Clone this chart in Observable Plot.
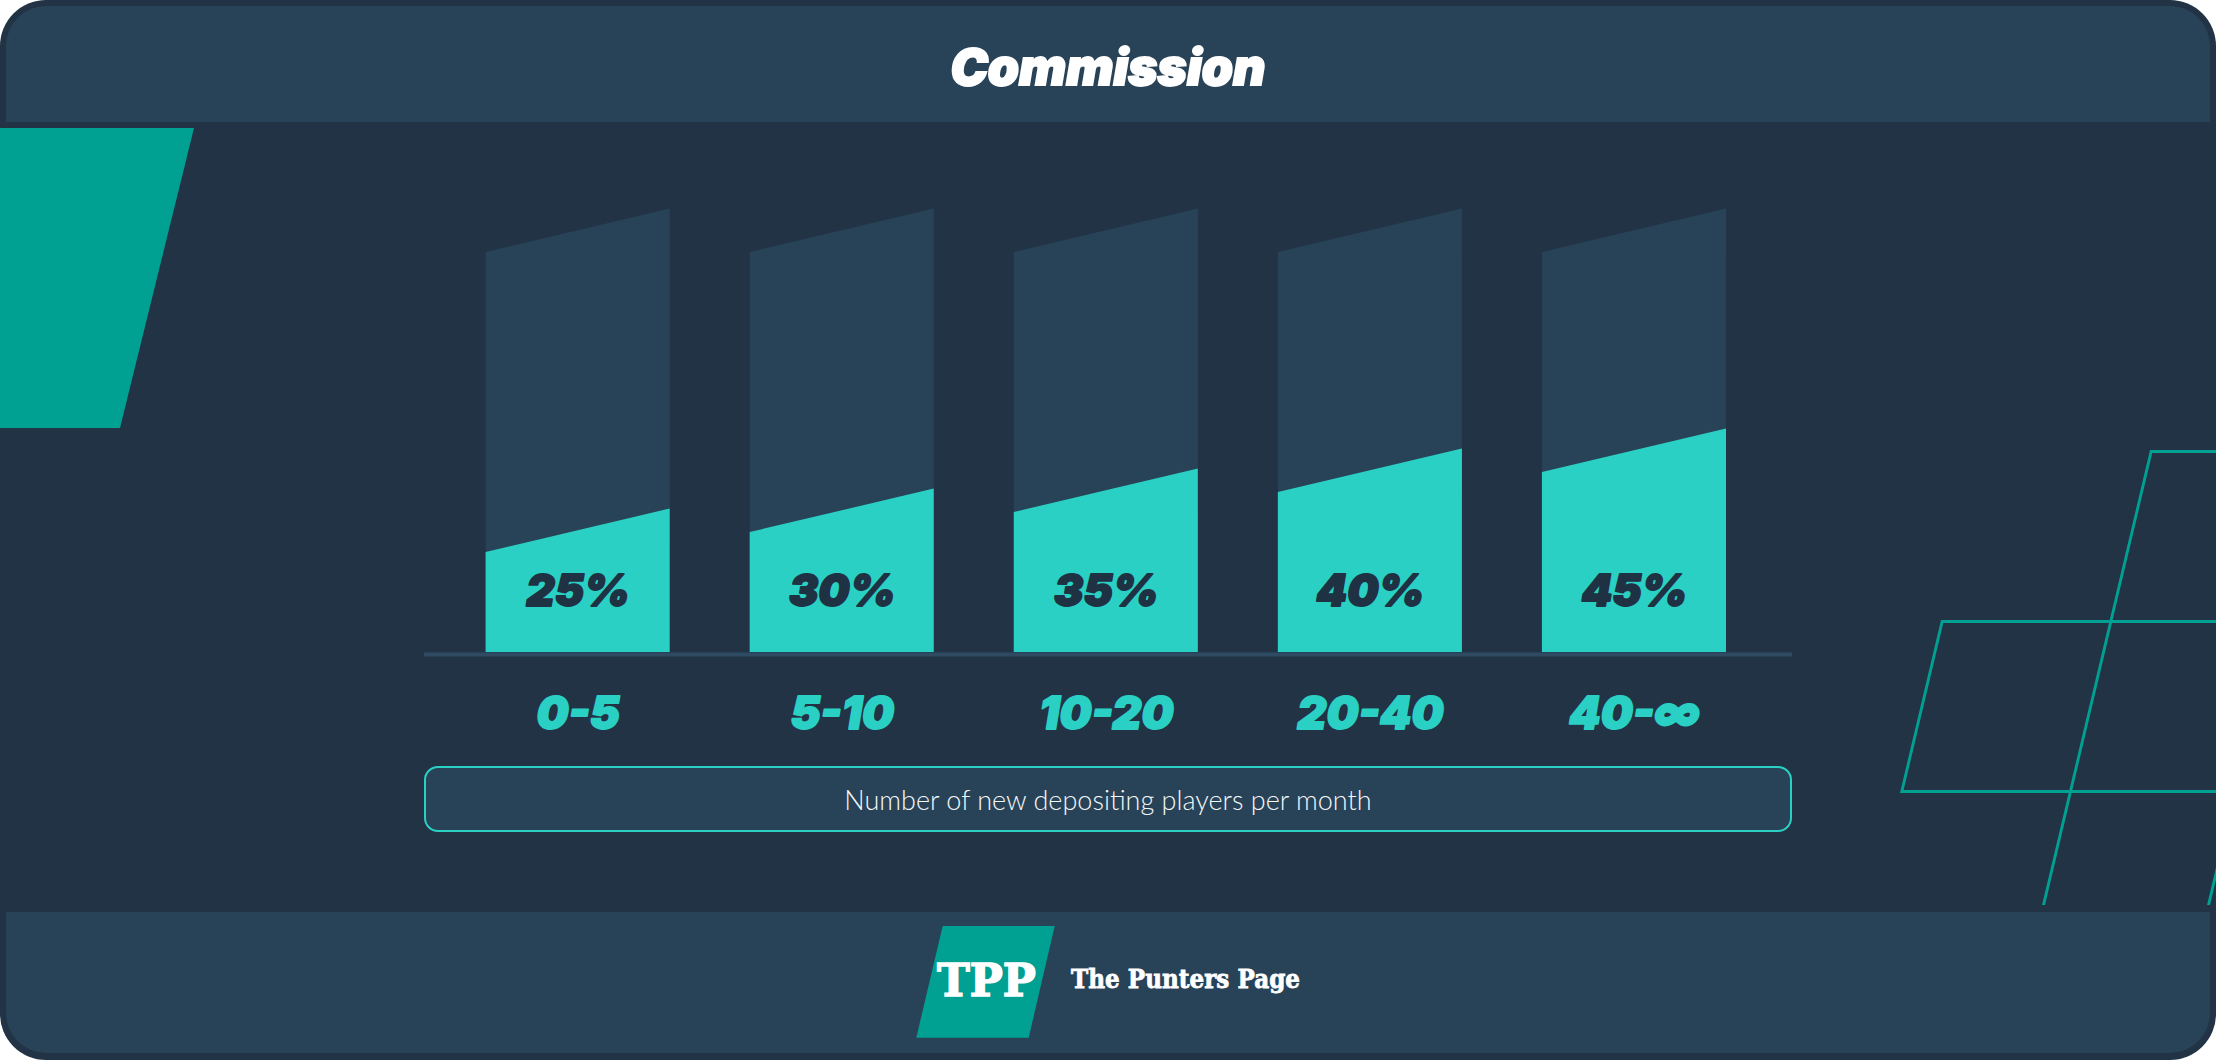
<!DOCTYPE html>
<html>
<head>
<meta charset="utf-8">
<script src="https://cdn.jsdelivr.net/npm/d3@7"></script>
<script src="https://cdn.jsdelivr.net/npm/@observablehq/plot@0.6"></script>
<style>
  html, body { margin: 0; padding: 0; background: #ffffff; }
  #frame { position: absolute; left: 0; top: 0; width: 2216px; height: 1060px; border-radius: 46px; background: #213344; overflow: hidden; }
  #header { position: absolute; left: 6px; top: 6px; width: 2204px; height: 116px; background: #284357; border-radius: 40px 40px 0 0; }
  #title { position: absolute; left: 0; width: 2216px; top: 42px; text-align: center; font-family: Inter, "Noto Sans", sans-serif; font-weight: 900; font-style: italic; font-size: 50px; line-height: 50px; color: #ffffff; white-space: nowrap; -webkit-text-stroke: 2px #ffffff; }
  #footer { position: absolute; left: 6px; top: 912px; width: 2204px; height: 141px; background: #284357; border-radius: 0 0 40px 40px; }
  #leftdeco { position: absolute; left: 0; top: 128px; width: 194px; height: 300px; background: #00A093; clip-path: polygon(0 0, 194px 0, 120px 300px, 0 300px); }
  #rightdeco { position: absolute; left: 0; top: 122px; width: 2216px; height: 783px; overflow: hidden; }
  .para { position: absolute; border: 3px solid #00A093; box-sizing: border-box; transform: skewX(-13.35deg); transform-origin: 0 0; }
  #chart { position: absolute; left: 0; top: 122px; }
  #xlabel { position: absolute; left: 424px; top: 766px; width: 1368px; height: 66px; box-sizing: border-box; border: 2px solid #2AD0C4; border-radius: 14px; background: #284357; display: flex; align-items: center; justify-content: center; font-family: Lato, "Open Sans", sans-serif; font-weight: 300; font-size: 27px; color: #f4f7f9; }
  #logo { position: absolute; left: 916.3px; top: 926px; width: 138.4px; height: 111.7px; background: #00A093; clip-path: polygon(26.4px 0, 138.4px 0, 112.4px 111.7px, 0 111.7px); }
  #tpp { position: absolute; left: 936px; width: 101px; top: 959px; text-align: center; font-family: "DejaVu Serif", serif; font-weight: 700; font-size: 44px; line-height: 44px; color: #ffffff; white-space: nowrap; -webkit-text-stroke: 1.5px #ffffff; }
  #brand { position: absolute; left: 1070.7px; top: 966px; font-family: "DejaVu Serif", serif; font-weight: 700; font-size: 26.5px; line-height: 26.5px; color: #ffffff; white-space: nowrap; transform-origin: 0 0; -webkit-text-stroke: 0.8px #ffffff; }
</style>
</head>
<body>
<div id="frame">
  <div id="header"></div>
  <div id="title">Commission</div>
  <div id="leftdeco"></div>
  <div id="rightdeco">
    <div class="para" style="left:2149.5px; top:328.2px; width:168px; height:700px;"></div>
    <div class="para" style="left:1940.5px; top:498.2px; width:420px; height:173px;"></div>
  </div>
  <div id="chart"></div>
  <div id="xlabel">Number of new depositing players per month</div>
  <div id="footer"></div>
  <div id="logo"></div>
  <div id="tpp">TPP</div>
  <div id="brand">The Punters Page</div>
</div>
<script>
// ---- data ----
const categories = ["0-5", "5-10", "10-20", "20-40", "40-∞"];
const commission = [25, 30, 35, 40, 45];
const percentLabels = ["25%", "30%", "35%", "40%", "45%"];
const fullScale = [100, 100, 100, 100, 100];

// ---- style constants ----
const halfWidth = 0.3485;   // half bar width, in category-index units
const slant = 10.85;        // rise of the slanted bar tops, in y units
const teal = "#2AD0C4";
const column = "#284357";
const ink = "#1f3243";

const columnPts = categories.flatMap((c, i) => [
  {c, x: i - halfWidth, y: fullScale[i]},
  {c, x: i + halfWidth, y: fullScale[i] + slant}
]);
const fillPts = categories.flatMap((c, i) => [
  {c, x: i - halfWidth, y: commission[i]},
  {c, x: i + halfWidth, y: commission[i] + slant}
]);
const labelRows = categories.map((c, i) => ({i, c, pct: percentLabels[i]}));

const chart = Plot.plot({
  width: 2216,
  height: 790,
  marginLeft: 445.6,
  marginRight: 450,
  marginTop: 86,
  marginBottom: 260,
  style: {background: "transparent", overflow: "visible"},
  x: {type: "linear", domain: [-0.5, 4.5], axis: null},
  y: {domain: [0, 111], axis: null},
  marks: [
    Plot.ruleY([0], {stroke: "#2e4b63", strokeWidth: 4, dy: 2, insetLeft: -21.6, insetRight: -26}),
    Plot.area(columnPts, {x1: "x", y1: 0, y2: "y", z: "c", fill: column}),
    Plot.area(fillPts, {x1: "x", y1: 0, y2: "y", z: "c", fill: teal}),
    Plot.text(labelRows, {x: "i", y: 0, text: "pct", dy: -47, lineAnchor: "bottom",
      fontFamily: "Inter, 'Noto Sans', sans-serif", fontSize: 44, fontWeight: 900, fontStyle: "italic",
      fill: ink, stroke: ink, strokeWidth: 1.8}),
    Plot.text(labelRows, {x: "i", y: 0, text: "c", dy: 76.3, lineAnchor: "bottom",
      fontFamily: "Inter, 'Noto Sans', sans-serif", fontSize: 45, fontWeight: 900, fontStyle: "italic",
      fill: teal, stroke: teal, strokeWidth: 1.8})
  ]
});
document.getElementById("chart").appendChild(chart);

// fit brand text width
const brand = document.getElementById("brand");
const w = brand.getBoundingClientRect().width;
brand.style.transform = `scaleX(${229 / w})`;
</script>
</body>
</html>
